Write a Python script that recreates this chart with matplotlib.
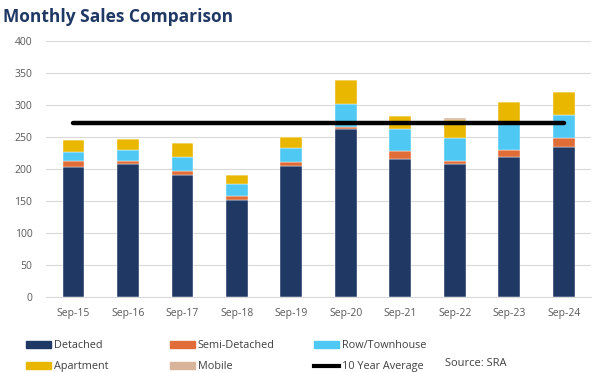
import matplotlib
matplotlib.use("Agg")

import numpy as np
import matplotlib.pyplot as plt
from matplotlib.patches import Patch
from matplotlib.lines import Line2D

months = ["Sep-15", "Sep-16", "Sep-17", "Sep-18", "Sep-19",
          "Sep-20", "Sep-21", "Sep-22", "Sep-23", "Sep-24"]
detached = [203, 207, 190, 152, 204, 263, 216, 208, 218, 234]
semi = [10, 6, 7, 6, 6, 3, 12, 4, 12, 15]
row = [14, 17, 21, 18, 23, 36, 34, 37, 44, 36]
apartment = [18, 16, 23, 15, 17, 37, 21, 28, 31, 35]
mobile = [0, 0, 0, 0, 0, 0, 0, 3, 0, 0]
ten_year_avg = 271

names = ["Detached", "Semi-Detached", "Row/Townhouse", "Apartment", "Mobile"]
colors = ["#203864", "#E06D38", "#4FC8F3", "#E9B700", "#D8B59A"]
series = [detached, semi, row, apartment, mobile]

plt.rcParams["font.family"] = ["Open Sans", "DejaVu Sans"]

fig = plt.figure(figsize=(6.08, 3.72), dpi=100)
ax = fig.add_axes([0.076, 0.202, 0.896, 0.688])

x = np.arange(len(months))
bottom = np.zeros(len(months))
for vals, c in zip(series, colors):
    ax.bar(x, vals, width=0.4, bottom=bottom, color=c,
           edgecolor="white", linewidth=0.3, zorder=2)
    bottom += np.array(vals)

# 10年平均線
ax.plot(x, [ten_year_avg] * len(x), color="black", linewidth=3.2,
        solid_capstyle="round", zorder=3)

ax.set_xlim(-0.5, len(months) - 0.5)
ax.set_ylim(0, 400)
ax.set_yticks(range(0, 401, 50))
ax.set_xticks(x)
ax.set_xticklabels(months)
ax.tick_params(axis="both", labelsize=7.5, colors="#595959", length=0, pad=8)
ax.tick_params(axis="y", pad=10)
ax.grid(axis="y", color="#D9D9D9", linewidth=0.8, zorder=0)
for s in ["top", "right", "left"]:
    ax.spines[s].set_visible(False)
ax.spines["bottom"].set_color("#D9D9D9")

fig.text(0.005, 0.953, "Monthly Sales Comparison", fontsize=12.5,
         fontweight="bold", color="#1F3864", va="center", ha="left")

handles = [Patch(color=c) for c in colors]
handles.append(Line2D([0], [0], color="black", linewidth=3))
labels = names + ["10 Year Average"]
cols = [(0, 3), (1, 4), (2, 5)]
xs = [0.043, 0.279, 0.516]
for (a, b), xpos in zip(cols, xs):
    leg = fig.legend([handles[a], handles[b]], [labels[a], labels[b]],
                     loc="upper left", bbox_to_anchor=(xpos, 0.086),
                     frameon=False, fontsize=7.8, handlelength=2.3,
                     handleheight=0.6, handletextpad=0.3, labelspacing=0.95,
                     borderpad=0, borderaxespad=0)
    for t in leg.get_texts():
        t.set_color("#404040")

fig.text(0.732, 0.022, "Source: SRA", fontsize=8, color="#404040",
         ha="left", va="center")

fig.savefig("out.png", dpi=100)
